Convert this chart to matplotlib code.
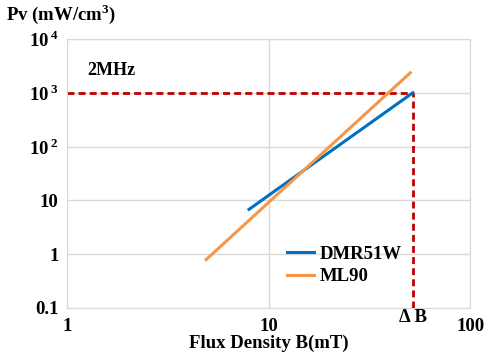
import numpy as np
import matplotlib.pyplot as plt
from matplotlib.ticker import FixedLocator, FixedFormatter

plt.rcParams['font.family'] = ['Liberation Serif', 'DejaVu Serif']
plt.rcParams['font.weight'] = 'bold'
plt.rcParams['mathtext.fontset'] = 'custom'
plt.rcParams['mathtext.rm'] = 'Liberation Serif:bold'

# data (log-log straight lines)
dmr51w_b = [8.0, 52.0]
dmr51w_pv = [6.8, 1000.0]
ml90_b = [4.9, 50.5]
ml90_pv = [0.79, 2350.0]

delta_b = 52.0
pv_ref = 1000.0

x_ticks = [1, 10, 100]
x_labels = ["1", "10", "100"]
y_ticks = [0.1, 1, 10, 100, 1000, 10000]
y_labels = ["0.1", "1", "10", "10$^{\\,2}$", "10$^{\\,3}$", "10$^{\\,4}$"]

fig = plt.figure(figsize=(4.88, 3.64), dpi=100)
ax = fig.add_axes([0.1373, 0.154, 0.826, 0.739])

ax.set_xscale("log")
ax.set_yscale("log")
ax.set_xlim(1, 100)
ax.set_ylim(0.1, 10000)

ax.xaxis.set_major_locator(FixedLocator(x_ticks))
ax.xaxis.set_major_formatter(FixedFormatter(x_labels))
ax.yaxis.set_major_locator(FixedLocator(y_ticks))
ax.yaxis.set_major_formatter(FixedFormatter(y_labels))
ax.xaxis.set_minor_locator(FixedLocator([]))
ax.yaxis.set_minor_locator(FixedLocator([]))
ax.tick_params(length=0, labelsize=13.5, pad=6)
ax.tick_params(axis="x", pad=7)
for lab in ax.get_xticklabels() + ax.get_yticklabels():
    lab.set_fontweight("bold")

ax.grid(True, color="#d9d9d9", linewidth=1)
for s in ax.spines.values():
    s.set_color("#d9d9d9")
ax.set_axisbelow(True)

ax.plot([1, delta_b], [pv_ref, pv_ref], color="#c00000", linestyle=(0, (2.5, 1.5)), linewidth=2)
ax.plot([delta_b, delta_b], [0.1, pv_ref], color="#c00000", linestyle=(0, (2.5, 1.5)), linewidth=2)

ax.plot(dmr51w_b, dmr51w_pv, color="#0070c0", linewidth=2.2, label="DMR51W")
ax.plot(ml90_b, ml90_pv, color="#f79646", linewidth=2.2, label="ML90")

ax.legend(loc="upper left", bbox_to_anchor=(0.503, 0.295), frameon=False,
          prop={"size": 13.5, "weight": "bold"}, handlelength=1.45,
          handletextpad=0.3, labelspacing=0.3)

ax.text(0.05, 0.865, "2MHz", transform=ax.transAxes, fontsize=13, fontweight="bold")
ax.text(delta_b, 0.066, "Δ B", ha="center", va="center", fontsize=13.5, fontweight="bold")
fig.text(0.012, 0.962, "Pv (mW/cm$^{3}$)", fontsize=13.5, fontweight="bold", va="center")
ax.set_xlabel("Flux Density B(mT)", fontsize=13.5, fontweight="bold", labelpad=0)

fig.savefig("out.png", dpi=100)
